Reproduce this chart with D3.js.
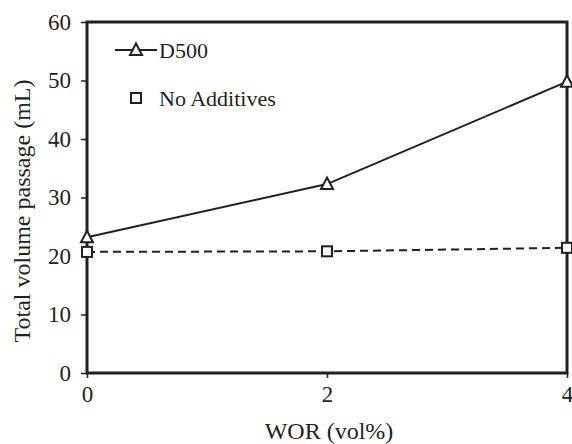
<!DOCTYPE html>
<html>
<head>
<meta charset="utf-8">
<script src="https://cdn.jsdelivr.net/npm/d3@7/dist/d3.min.js"></script>
<style>
  html, body { margin: 0; padding: 0; background: #fff; }
</style>
</head>
<body>
<svg id="chart" width="572" height="444"></svg>
<script>
// WOR levels (vol%) and total volume passage (mL)
const worLevels = [0, 2, 4];
const d500Values = [23.2, 32.3, 49.8];
const noAdditiveValues = [20.7, 20.8, 21.4];
const xTicks = [0, 2, 4];
const yTicks = [0, 10, 20, 30, 40, 50, 60];
const seriesNames = ["D500", "No Additives"];

const FONT = "Liberation Serif";

const svg = d3.select("#chart");
const margin = { left: 87, top: 22, right: 5, bottom: 71 };
const W = 572, H = 444;

const x = d3.scaleLinear().domain([0, 4]).range([margin.left, W - margin.right]);
const y = d3.scaleLinear().domain([0, 60]).range([H - margin.bottom, margin.top]);

const ink = "#231f20";

// Axes
const yAxis = svg.append("g")
  .attr("transform", `translate(${margin.left},0)`)
  .call(d3.axisLeft(y).tickValues(yTicks).tickFormat(d3.format("d")).tickSize(6).tickPadding(10));
const xAxis = svg.append("g")
  .attr("transform", `translate(0,${H - margin.bottom})`)
  .call(d3.axisBottom(x).tickValues(xTicks).tickFormat(d3.format("d")).tickSize(5).tickPadding(8));

[yAxis, xAxis].forEach(g => {
  g.select(".domain").remove();
  g.selectAll("line").attr("stroke", ink).attr("stroke-width", 1.5);
  g.selectAll("text").attr("fill", ink)
    .style("font-family", FONT).style("font-size", "23px");
});
// keep the last x label inside the canvas edge
xAxis.selectAll(".tick text").filter(d => d === 4)
  .attr("text-anchor", "end").attr("dx", "0.25em");

// Frame
svg.append("rect")
  .attr("x", x(0)).attr("y", y(60))
  .attr("width", x(4) - x(0)).attr("height", y(0) - y(60))
  .attr("fill", "none").attr("stroke", ink).attr("stroke-width", 3);

// Series lines
const line = d3.line().x((d, i) => x(worLevels[i])).y(d => y(d));

svg.append("path").datum(noAdditiveValues)
  .attr("d", line).attr("fill", "none").attr("stroke", ink)
  .attr("stroke-width", 2).attr("stroke-dasharray", "8,5");

svg.append("path").datum(d500Values)
  .attr("d", line).attr("fill", "none").attr("stroke", ink)
  .attr("stroke-width", 2);

// Markers
function triangle(g, cx, cy) {
  g.append("path")
    .attr("d", `M${cx},${cy - 6.5} L${cx + 6},${cy + 5} L${cx - 6},${cy + 5} Z`)
    .attr("fill", "#fff").attr("stroke", ink).attr("stroke-width", 2);
}
function square(g, cx, cy) {
  g.append("rect")
    .attr("x", cx - 5).attr("y", cy - 5).attr("width", 10).attr("height", 10)
    .attr("fill", "#fff").attr("stroke", ink).attr("stroke-width", 2);
}

const marks = svg.append("g");
noAdditiveValues.forEach((v, i) => square(marks, x(worLevels[i]), y(v)));
d500Values.forEach((v, i) => triangle(marks, x(worLevels[i]), y(v)));

// Legend
const legend = svg.append("g");
legend.append("line").attr("x1", 115).attr("x2", 157).attr("y1", 50).attr("y2", 50)
  .attr("stroke", ink).attr("stroke-width", 2);
triangle(legend, 136, 50);
legend.append("text").attr("x", 159).attr("y", 58).text(seriesNames[0]).attr("fill", ink)
  .style("font-family", FONT).style("font-size", "22px");
square(legend, 136, 98);
legend.append("text").attr("x", 159).attr("y", 106).text(seriesNames[1]).attr("fill", ink)
  .style("font-family", FONT).style("font-size", "22px");

// Axis titles
svg.append("text")
  .attr("x", 329).attr("y", 439)
  .attr("text-anchor", "middle").attr("fill", ink)
  .style("font-family", FONT).style("font-size", "24px").text("WOR (vol%)");

svg.append("text")
  .attr("transform", "translate(30,211) rotate(-90)")
  .attr("text-anchor", "middle").attr("fill", ink)
  .style("font-family", FONT).style("font-size", "24px").text("Total volume passage (mL)");
</script>
</body>
</html>
